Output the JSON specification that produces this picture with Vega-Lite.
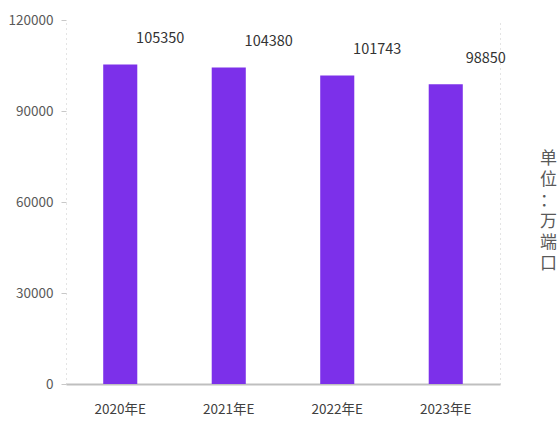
{
  "$schema": "https://vega.github.io/schema/vega-lite/v6.json",
  "autosize": "none",
  "width": 434,
  "height": 364,
  "padding": {"left": 66, "top": 20, "right": 58, "bottom": 44},
  "background": "white",
  "config": {
    "view": {"stroke": null},
    "font": "Noto Sans CJK SC"
  },
  "data": {
    "values": [
      {"year": "2020年E", "ports": 105350},
      {"year": "2021年E", "ports": 104380},
      {"year": "2022年E", "ports": 101743},
      {"year": "2023年E", "ports": 98850}
    ]
  },
  "encoding": {
    "x": {
      "field": "year",
      "type": "nominal",
      "sort": null,
      "scale": {"paddingInner": 0.686, "paddingOuter": 0.343},
      "axis": {
        "title": null,
        "labelAngle": 0,
        "labelFontSize": 13.5,
        "labelColor": "#404040",
        "labelPadding": 18,
        "ticks": false,
        "domainColor": "#bfbfbf",
        "domainWidth": 2
      }
    },
    "y": {
      "field": "ports",
      "type": "quantitative",
      "scale": {"domain": [0, 120000]}
    }
  },
  "layer": [
    {
      "mark": {"type": "bar", "color": "#7c30ea"},
      "encoding": {
        "y": {
          "field": "ports",
          "type": "quantitative",
          "scale": {"domain": [0, 120000]},
          "axis": {
            "title": null,
            "values": [0, 30000, 60000, 90000, 120000],
            "format": "d",
            "grid": false,
            "labelFontSize": 13.5,
            "labelColor": "#595959",
            "labelPadding": 8,
            "tickSize": 5,
            "tickColor": "#c8c8c8",
            "domainColor": "#c8c8c8",
            "domainDash": [1, 4]
          }
        }
      }
    },
    {
      "mark": {"type": "text", "dx": 40, "dy": -25, "fontSize": 14.5, "color": "#333333"},
      "encoding": {
        "text": {"field": "ports", "type": "quantitative", "format": "d"},
        "y": {
          "field": "ports",
          "type": "quantitative",
          "scale": {"domain": [0, 120000]},
          "axis": {
            "orient": "right",
            "title": ["单", "位", "：", "万", "端", "口"],
            "titleAngle": 0,
            "titleAlign": "center",
            "titleBaseline": "middle",
            "titleX": 48,
            "titleY": 138,
            "titleFontSize": 17,
            "titleFontWeight": "normal",
            "titleColor": "#595959",
            "titleLineHeight": 21,
            "labels": false,
            "ticks": false,
            "grid": false,
            "domainColor": "#c8c8c8",
            "domainDash": [1, 4]
          }
        }
      }
    }
  ],
  "resolve": {"axis": {"y": "independent"}}
}
